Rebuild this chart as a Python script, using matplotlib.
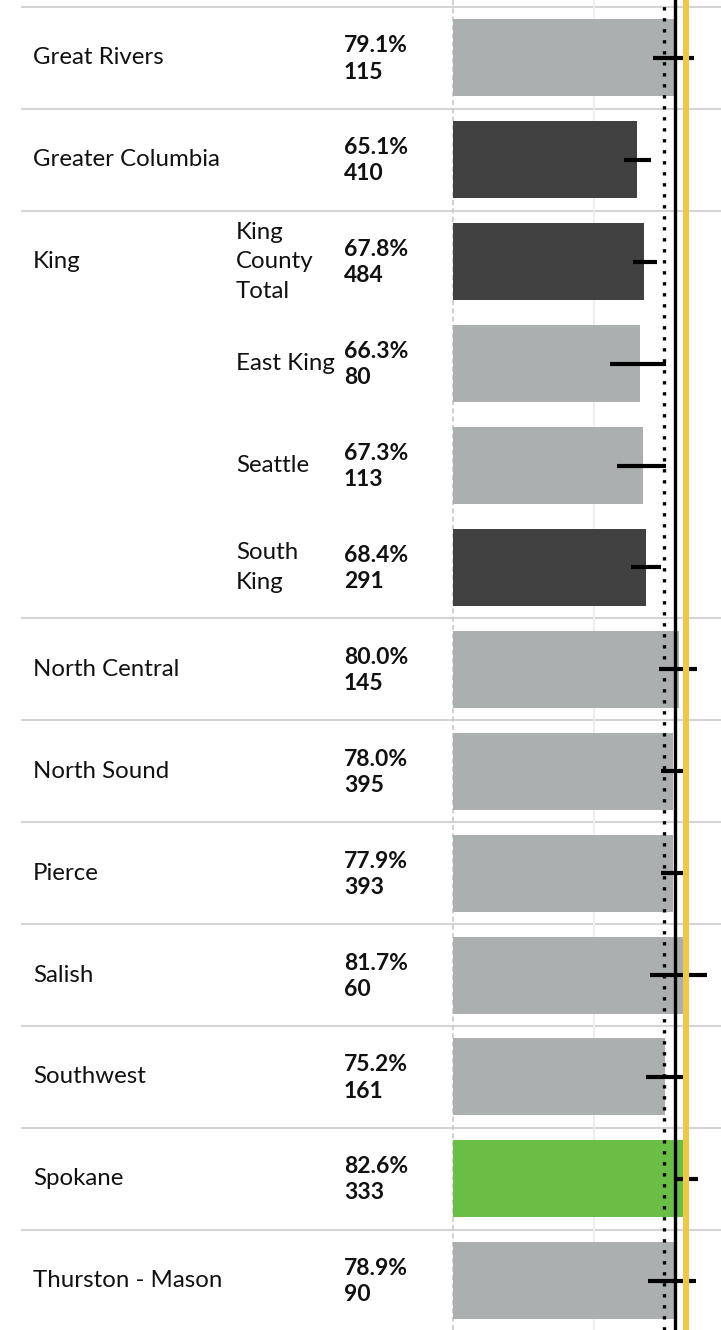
import numpy as np
import matplotlib.pyplot as plt

plt.rcParams['font.family'] = ['Lato', 'DejaVu Sans']

# ---- data ----
regions = ["Great Rivers", "Greater Columbia", "King", "", "", "",
           "North Central", "North Sound", "Pierce", "Salish",
           "Southwest", "Spokane", "Thurston - Mason"]
sub_regions = ["", "", "King\nCounty\nTotal", "East King", "Seattle", "South\nKing",
               "", "", "", "", "", "", ""]
pct = [79.1, 65.1, 67.8, 66.3, 67.3, 68.4, 80.0, 78.0, 77.9, 81.7, 75.2, 82.6, 78.9]
n_resp = [115, 410, 484, 80, 113, 291, 145, 395, 393, 60, 161, 333, 90]
ci_low = [71.0, 60.6, 63.9, 55.7, 58.2, 63.2, 73.2, 73.9, 73.9, 70.0, 68.4, 78.2, 69.3]
ci_high = [85.5, 70.1, 72.2, 75.6, 75.6, 73.9, 86.5, 81.5, 81.5, 90.0, 81.5, 86.8, 86.2]
status = ["same", "below", "below", "same", "same", "below", "same",
          "same", "same", "same", "same", "above", "same"]

ref_dotted = 74.8
state_avg = 78.8
target = 82.5

colors = {"same": "#abafaf", "below": "#414141", "above": "#6abe45"}

# ---- layout (pixels) ----
W, H = 721, 1330
row_top, row_h = 7, 101.9
n_rows = len(pct)
y_top = (0 - row_top) / row_h - 0.5
y_bot = (H - row_top) / row_h - 0.5
bar_left = 453

fig = plt.figure(figsize=(W / 100, H / 100), dpi=100)
fig.set_facecolor("white")

# text / table layer
tax = fig.add_axes([0, 0, 1, 1])
tax.set_xlim(0, W)
tax.set_ylim(y_bot, y_top)
tax.axis("off")

# group separators (King group spans four rows)
bounds = [-0.5] + [i + 0.5 for i in range(n_rows) if i not in (2, 3, 4)]
for b in bounds:
    tax.plot([21, W], [b, b], color="#d4d4d4", lw=1.5, solid_capstyle="butt", zorder=1)

txt_color = "#111111"
for i in range(n_rows):
    if regions[i]:
        tax.text(33, i, regions[i], fontsize=17.3, color=txt_color, va="center", ha="left")
    if sub_regions[i]:
        tax.text(236, i, sub_regions[i], fontsize=17.3, color=txt_color,
                 va="center", ha="left", linespacing=1.5)
    tax.text(344, i + 0.01, f"{pct[i]:.1f}%\n{n_resp[i]}", fontsize=16.5, color=txt_color,
             fontweight="bold", va="center", ha="left", linespacing=1.3)

# bar layer
ax = fig.add_axes([bar_left / W, 0, 1 - bar_left / W, 1])
ax.set_facecolor("none")
ax.set_xlim(0, (W - bar_left) / 2.82)
ax.set_ylim(y_bot, y_top)
for s in ax.spines.values():
    s.set_visible(False)
ax.set_xticks([])
ax.set_yticks([])

y = np.arange(n_rows)
ax.barh(y, pct, height=0.756, color=[colors[s] for s in status], zorder=2)
ax.hlines(y, ci_low, ci_high, color="black", lw=3, zorder=3)

ax.axvline(50, color="#eeeeee", lw=1.4, zorder=0)
ax.axvline(0, color="#c8c8c8", lw=1.2, ls=(0, (3, 2)), zorder=1, clip_on=False)
ax.axvline(ref_dotted, color="black", lw=2.4, ls=(0, (1, 2.3)), zorder=4)
ax.axvline(state_avg, color="black", lw=2.4, zorder=5)
ax.axvline(target, color="#edc94b", lw=4.4, zorder=6)

fig.savefig("out.png", dpi=100, facecolor="white")
